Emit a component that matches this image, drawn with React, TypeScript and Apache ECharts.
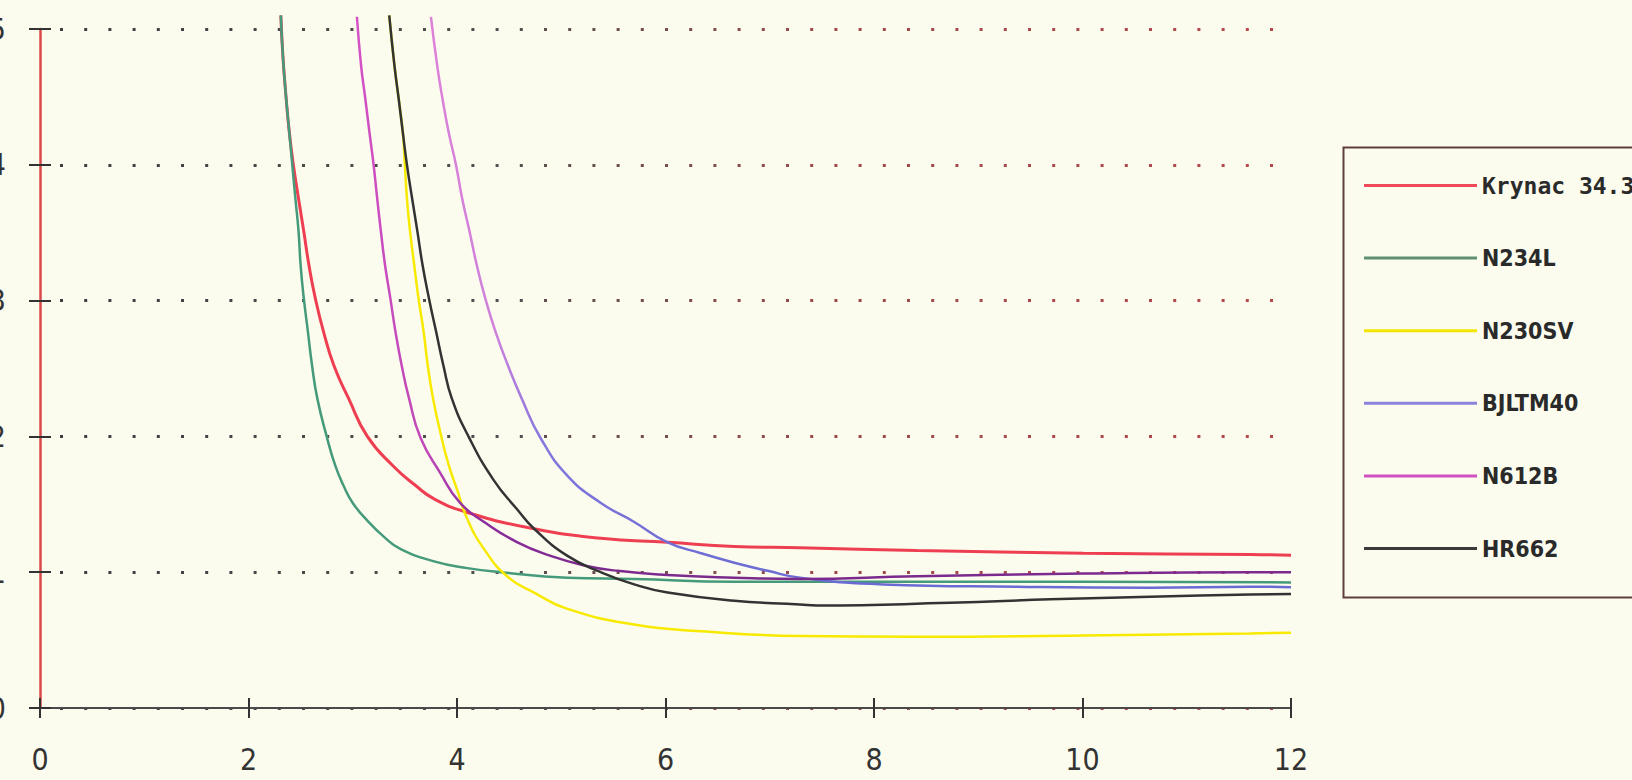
import React, { useEffect, useRef } from "react";
import * as echarts from "echarts";

const xTicks = [0, 2, 4, 6, 8, 10, 12];
const yTicks = [0, 1, 2, 3, 4, 5];

const seriesNames = ["Krynac 34.35", "N234L", "N230SV", "BJLTM40", "N612B", "HR662"];

const krynacX = [2.31, 2.33, 2.36, 2.39, 2.43, 2.48, 2.53, 2.58, 2.64, 2.72, 2.82, 2.96, 3.14, 3.39, 3.60, 3.78, 4.10, 4.74, 5.38, 6.02, 6.66, 7.29, 8.41, 10.01, 11.61, 12.0];
const krynacY = [5.10, 4.80, 4.50, 4.25, 4.00, 3.75, 3.51, 3.26, 3.02, 2.77, 2.52, 2.28, 2.00, 1.78, 1.64, 1.54, 1.44, 1.32, 1.25, 1.22, 1.19, 1.18, 1.16, 1.14, 1.13, 1.125];

const n234lX = [2.31, 2.33, 2.36, 2.39, 2.42, 2.45, 2.48, 2.50, 2.53, 2.57, 2.61, 2.66, 2.75, 2.83, 2.91, 3.00, 3.14, 3.30, 3.46, 3.78, 4.10, 4.42, 5.06, 5.70, 6.66, 8.41, 10.01, 12.0];
const n234lY = [5.10, 4.80, 4.50, 4.25, 4.00, 3.75, 3.51, 3.26, 3.02, 2.77, 2.52, 2.28, 2.00, 1.79, 1.64, 1.51, 1.38, 1.26, 1.17, 1.08, 1.03, 1.00, 0.96, 0.95, 0.93, 0.93, 0.93, 0.925];

const n230svX = [3.35, 3.40, 3.44, 3.48, 3.50, 3.52, 3.55, 3.59, 3.63, 3.68, 3.72, 3.77, 3.84, 3.92, 4.00, 4.10, 4.26, 4.48, 4.74, 5.06, 5.70, 6.34, 7.29, 8.41, 10.01, 11.61, 12.0];
const n230svY = [5.10, 4.73, 4.49, 4.24, 4.00, 3.75, 3.51, 3.26, 3.02, 2.77, 2.52, 2.28, 2.03, 1.79, 1.61, 1.39, 1.17, 0.97, 0.85, 0.73, 0.615, 0.566, 0.53, 0.524, 0.534, 0.549, 0.555];

const bjltm40X = [3.75, 3.81, 3.86, 3.92, 3.99, 4.05, 4.12, 4.19, 4.27, 4.37, 4.49, 4.62, 4.80, 5.06, 5.38, 5.70, 6.02, 6.34, 6.66, 6.98, 7.29, 8.09, 9.37, 10.65, 11.61, 12.0];
const bjltm40Y = [5.09, 4.73, 4.49, 4.24, 4.00, 3.75, 3.51, 3.26, 3.02, 2.77, 2.52, 2.28, 1.99, 1.71, 1.51, 1.37, 1.22, 1.14, 1.07, 1.01, 0.96, 0.91, 0.893, 0.886, 0.893, 0.89];

const n612bX = [3.04, 3.08, 3.12, 3.16, 3.20, 3.235, 3.27, 3.31, 3.36, 3.41, 3.47, 3.54, 3.65, 3.84, 4.03, 4.26, 4.58, 4.90, 5.22, 5.54, 6.02, 6.66, 7.29, 8.41, 10.01, 11.61, 12.0];
const n612bY = [5.09, 4.73, 4.49, 4.24, 4.00, 3.75, 3.51, 3.26, 3.02, 2.77, 2.52, 2.28, 1.99, 1.73, 1.51, 1.37, 1.22, 1.12, 1.05, 1.01, 0.98, 0.96, 0.95, 0.97, 0.99, 1.00, 1.00];

const hr662X = [3.35, 3.40, 3.44, 3.48, 3.52, 3.57, 3.62, 3.67, 3.73, 3.80, 3.87, 3.95, 4.11, 4.35, 4.58, 4.74, 5.06, 5.38, 5.70, 6.02, 6.66, 7.29, 7.45, 8.73, 9.69, 10.65, 11.61, 12.0];
const hr662Y = [5.10, 4.73, 4.49, 4.24, 4.00, 3.75, 3.51, 3.26, 3.02, 2.77, 2.52, 2.28, 2.00, 1.68, 1.46, 1.32, 1.12, 1.00, 0.91, 0.85, 0.79, 0.763, 0.755, 0.775, 0.80, 0.82, 0.836, 0.84];

const zip = (xs: number[], ys: number[]) => xs.map((x, i) => [x, ys[i]]);

const seriesX = [krynacX, n234lX, n230svX, bjltm40X, n612bX, hr662X];
const seriesY = [krynacY, n234lY, n230svY, bjltm40Y, n612bY, hr662Y];

const legendColors = ["#f04a5a", "#5f8f72", "#f2e600", "#8a82dc", "#d050c0", "#3a3a3a"];

export default function App() {
  const ref = useRef<HTMLDivElement>(null);
  useEffect(() => {
    const chart = echarts.init(ref.current!, null, { renderer: "svg" });
    const lineColors: any[] = [
      "#ee3f52",
      "#449a7a",
      "#f7ea00",
      {
        type: "linear", x: 0, y: 0, x2: 0, y2: 1,
        colorStops: [
          { offset: 0, color: "#de80d8" },
          { offset: 0.55, color: "#cf80dc" },
          { offset: 0.75, color: "#8478dc" },
          { offset: 1, color: "#6a6ad4" },
        ],
      },
      {
        type: "linear", x: 0, y: 0, x2: 0, y2: 1,
        colorStops: [
          { offset: 0, color: "#d452c6" },
          { offset: 0.78, color: "#c048b8" },
          { offset: 0.9, color: "#8c2c9c" },
          { offset: 1, color: "#7a2a8c" },
        ],
      },
      "#333333",
    ];
    const gridColor = {
      type: "linear", x: 0, y: 0, x2: 1632, y2: 0, global: true,
      colorStops: [
        { offset: 0, color: "#3c3c3c" },
        { offset: 0.3, color: "#505050" },
        { offset: 0.5, color: "#9a4a4a" },
        { offset: 1, color: "#d04848" },
      ],
    };
    const labelFont = "'Liberation Sans Narrow', 'DejaVu Sans Condensed', sans-serif";
    const option: any = {
      animation: false,
      backgroundColor: "#fcfcee",
      grid: { left: 40, right: 341, top: 29, bottom: 72, containLabel: false, outerBoundsMode: "none" },
      xAxis: [
        {
          type: "value", min: 0, max: 12, interval: 2, position: "bottom",
          axisLine: { show: true, lineStyle: { color: "#4a4a4a", width: 2 } },
          axisTick: { show: true, length: 10, lineStyle: { color: "#333", width: 2 } },
          axisLabel: {
            margin: 36, color: "#333", fontSize: 30, fontFamily: labelFont,
            formatter: (v: number) => (xTicks.includes(v) ? String(v) : ""),
          },
          splitLine: { show: false },
        },
        {
          type: "value", min: 0, max: 12, interval: 2, position: "bottom",
          axisLine: { show: false },
          axisTick: { show: true, inside: true, length: 10, lineStyle: { color: "#333", width: 2 } },
          axisLabel: { show: false },
          splitLine: { show: false },
        },
      ],
      yAxis: [
        {
          type: "value", min: 0, max: 5, interval: 1, position: "left",
          axisLine: { show: true, lineStyle: { color: "#d84a4a", width: 2.5 } },
          axisTick: { show: true, length: 11, lineStyle: { color: "#333", width: 2 } },
          axisLabel: {
            margin: 34, color: "#333", fontSize: 30, fontFamily: labelFont,
            formatter: (v: number) => (yTicks.includes(v) ? String(v) : ""),
          },
          splitLine: {
            show: true,
            lineStyle: { color: gridColor, width: 3, type: [3, 21.2], dashOffset: -20 },
          },
        },
        {
          type: "value", min: 0, max: 5, interval: 1, position: "left",
          axisLine: { show: false },
          axisTick: { show: true, inside: true, length: 11, lineStyle: { color: "#333", width: 2 } },
          axisLabel: { show: false },
          splitLine: { show: false },
        },
      ],
      legend: {
        orient: "vertical",
        left: 1359,
        top: 169,
        itemWidth: 113,
        itemHeight: 3,
        itemGap: 49.6,
        icon: "rect",
        data: seriesNames.map((n, i) => ({ name: n, itemStyle: { color: legendColors[i] } })),
        formatter: (name: string) => (name === "Krynac 34.35" ? `{m|${name}}` : `{c|${name}}`),
        textStyle: {
          rich: {
            m: { fontFamily: "'DejaVu Sans Mono', monospace", fontWeight: "bold", fontSize: 23, color: "#2a2a2a", lineHeight: 24 },
            c: { fontFamily: "'DejaVu Sans Condensed', sans-serif", fontWeight: "bold", fontSize: 23, color: "#2a2a2a", lineHeight: 24 },
          },
        },
      },
      graphic: [
        {
          type: "rect",
          left: 1341,
          top: 145,
          shape: { width: 400, height: 450 },
          style: { fill: "none", stroke: "#5e3e3e", lineWidth: 2 },
          z: 0,
        },
      ],
      series: seriesNames.map((name, i) => ({
        name,
        type: "line",
        xAxisIndex: 0,
        yAxisIndex: 0,
        data: zip(seriesX[i], seriesY[i]),
        showSymbol: false,
        symbol: "none",
        smooth: 0.5,
        clip: false,
        lineStyle: { color: lineColors[i], width: i === 0 ? 3 : 2.5 },
        itemStyle: { color: legendColors[i] },
      })),
    };
    chart.setOption(option);
    return () => chart.dispose();
  }, []);
  return (
    <div
      ref={ref}
      style={{ position: "absolute", left: 0, top: 0, width: 1632, height: 780, background: "#fcfcee" }}
    />
  );
}
